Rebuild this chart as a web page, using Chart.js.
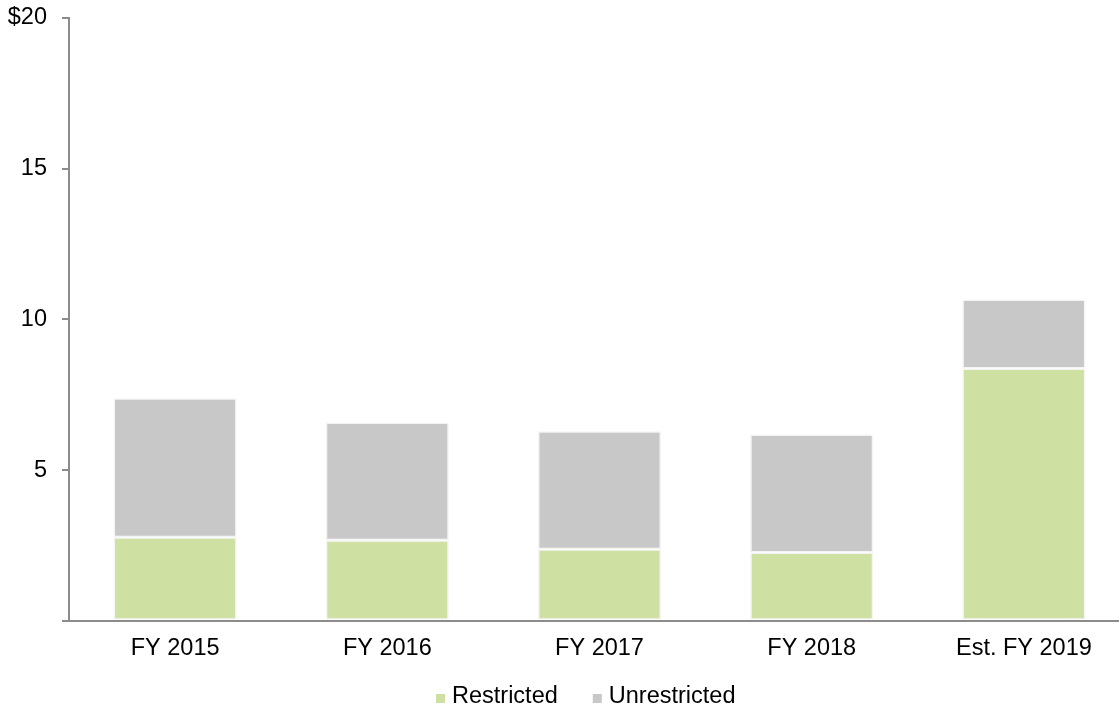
<!DOCTYPE html>
<html>
<head>
<meta charset="utf-8">
<script src="https://cdn.jsdelivr.net/npm/chart.js@4/dist/chart.umd.min.js"></script>
<style>
  html, body { margin: 0; padding: 0; background: #fff; overflow: hidden; }
  #wrap { width: 1130px; height: 710px; }
</style>
</head>
<body>
<div id="wrap"><canvas id="chart"></canvas></div>
<script>
const categories = ["FY 2015", "FY 2016", "FY 2017", "FY 2018", "Est. FY 2019"];
const restricted = [2.77, 2.67, 2.37, 2.27, 8.37];
const unrestricted = [4.61, 3.91, 3.92, 3.91, 2.29];
const yTicks = [0, 5, 10, 15, 20];

const FONT = "'Liberation Sans', Arial, sans-serif";
const FONT_SIZE = 23.5;
const AXIS = "#8c8c8c";

Chart.defaults.font.family = FONT;
Chart.defaults.color = "#000";

// legend drawn by hand so the box/text spacing matches the original
const bottomLegend = {
  id: "bottomLegend",
  afterDraw(chart) {
    const ctx = chart.ctx;
    const y = 697;
    let x = 436;
    ctx.save();
    ctx.font = FONT_SIZE + "px " + FONT;
    ctx.textBaseline = "middle";
    ctx.textAlign = "left";
    chart.data.datasets.forEach((ds) => {
      ctx.fillStyle = ds.backgroundColor;
      ctx.fillRect(x, y - 3, 9, 9);
      ctx.fillStyle = "#000";
      ctx.fillText(ds.label, x + 16, y);
      x += 16 + ctx.measureText(ds.label).width + 35;
    });
    ctx.restore();
  }
};

new Chart(document.getElementById("chart"), {
  type: "bar",
  data: {
    labels: categories,
    datasets: [
      {
        label: "Restricted",
        data: restricted,
        backgroundColor: "#cfe0a3",
        borderColor: "#f4f4f4",
        borderWidth: 1.5,
        borderSkipped: false
      },
      {
        label: "Unrestricted",
        data: unrestricted,
        backgroundColor: "#c8c8c8",
        borderColor: "#f4f4f4",
        borderWidth: 1.5,
        borderSkipped: false
      }
    ]
  },
  options: {
    responsive: true,
    maintainAspectRatio: false,
    animation: false,
    layout: { padding: { top: 0, left: 0, right: 0, bottom: 33 } },
    datasets: { bar: { categoryPercentage: 1, barPercentage: 0.58 } },
    plugins: {
      tooltip: { enabled: false },
      legend: { display: false }
    },
    scales: {
      x: {
        stacked: true,
        grid: { display: false, drawTicks: false },
        border: { color: AXIS, width: 2 },
        ticks: { font: { size: FONT_SIZE }, padding: 14, color: "#000" }
      },
      y: {
        stacked: true,
        min: 0,
        max: 20,
        afterFit: (s) => {
          s.width = 69;
          s.paddingTop = 18;
          s.paddingBottom = 0;
        },
        afterBuildTicks: (s) => { s.ticks = yTicks.map(v => ({ value: v })); },
        grid: {
          drawOnChartArea: false,
          drawTicks: true,
          tickLength: 7,
          color: AXIS,
          lineWidth: 2
        },
        border: { color: AXIS, width: 2 },
        ticks: {
          font: { size: FONT_SIZE },
          padding: 15,
          color: "#000",
          callback: (v) => v === 0 ? "" : (v === 20 ? "$20" : String(v))
        }
      }
    }
  },
  plugins: [bottomLegend]
});
</script>
</body>
</html>
